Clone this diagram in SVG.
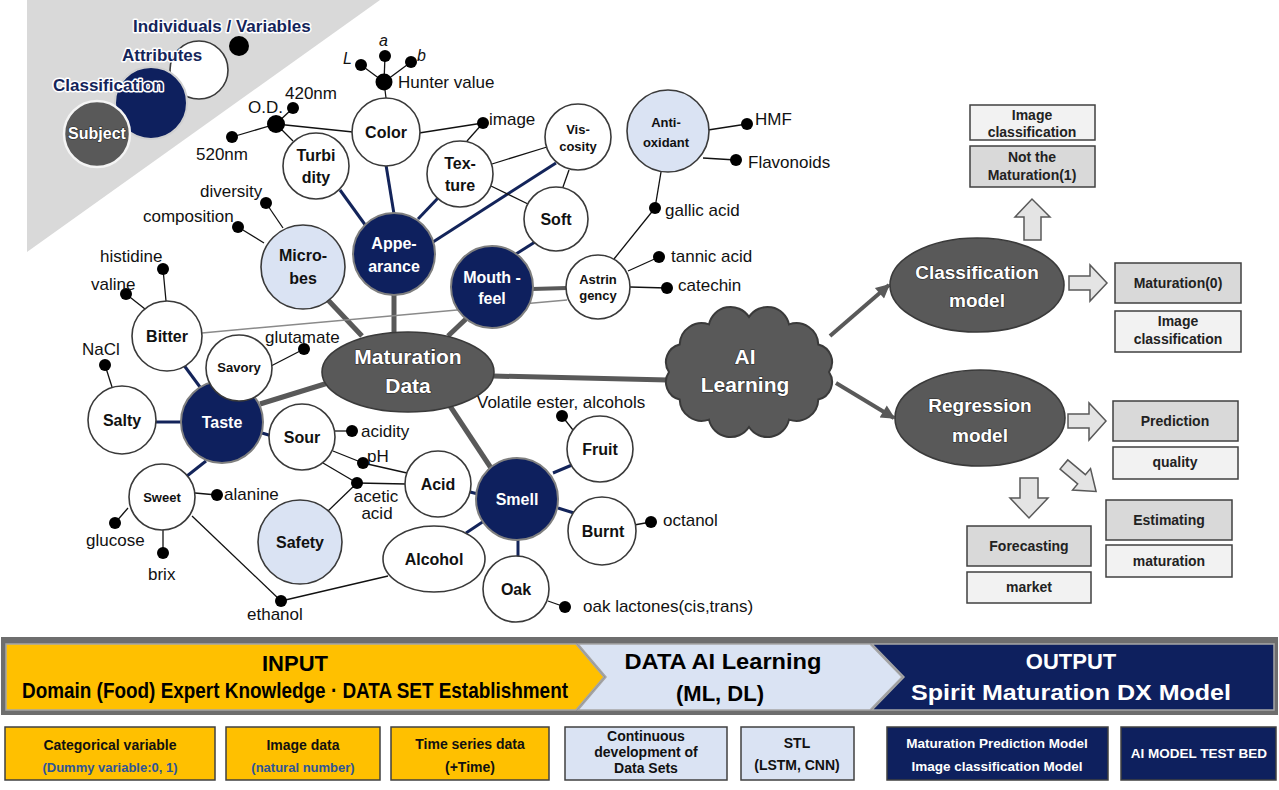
<svg xmlns="http://www.w3.org/2000/svg" width="1279" height="790" viewBox="0 0 1279 790">
<style>
text{font-family:"Liberation Sans",Arial,sans-serif}
.lb{font-size:17px;fill:#111}
.it{font-size:16px;font-style:italic;fill:#111}
.nb{font-size:16px;font-weight:bold;text-anchor:middle;fill:#111}
.ns{font-size:13px;font-weight:bold;text-anchor:middle;fill:#111}
.nw{font-size:16px;font-weight:bold;text-anchor:middle;fill:#fff}
.lg{font-size:17px;font-weight:bold;fill:#14245a;stroke:#fff;stroke-width:3;paint-order:stroke;stroke-linejoin:round}
.big{font-weight:bold;text-anchor:middle;fill:#fff;stroke:#2a2a2a;stroke-width:1.2;paint-order:stroke}
.bx{font-size:14px;font-weight:bold;text-anchor:middle;fill:#222}
.bt{font-size:14px;font-weight:bold;text-anchor:middle;fill:#111}
.bb{font-size:13px;font-weight:bold;text-anchor:middle;fill:#2f5597}
.bw{font-size:13.5px;font-weight:bold;text-anchor:middle;fill:#fff}
.ban{font-size:22px;font-weight:bold;text-anchor:middle}
.w{fill:#fff;stroke:#3a3a3a;stroke-width:1.6}
.lbn{fill:#dae3f3;stroke:#3a3a3a;stroke-width:1.6}
.nv{fill:#0e205e;stroke:#7f7f7f;stroke-width:2}
.dg{fill:#595959;stroke:#3a3a3a;stroke-width:1.6}
.t{stroke:#111;stroke-width:1.3;fill:none}
.n{stroke:#13245a;stroke-width:3;fill:none}
.g{stroke:#595959;stroke-width:5;fill:none}
.gl{stroke:#8a8a8a;stroke-width:1.5;fill:none}
.d{fill:#000}
.hb{fill:#d9d9d9;stroke:#404040;stroke-width:1.5}
.lbx{fill:#f2f2f2;stroke:#404040;stroke-width:1.5}
.ar{fill:#e4e4e4;stroke:#595959;stroke-width:1.5}
</style>
<defs>
<marker id="ah" viewBox="0 0 10 10" refX="9" refY="5" markerUnits="userSpaceOnUse" markerWidth="16" markerHeight="14" orient="auto">
<path d="M0,0 L10,5 L0,10 z" fill="#595959"/>
</marker>
</defs>
<rect width="1279" height="790" fill="#fff"/>

<!-- legend -->
<g id="legend">
<polygon points="27,0 380,0 27,252" fill="#d9d9d9"/>
<circle cx="239" cy="46" r="10" class="d"/>
<circle cx="199" cy="70" r="29" class="w"/>
<circle cx="151" cy="103" r="36" fill="#0e205e" stroke="#d0d0d0" stroke-width="2"/>
<circle cx="97" cy="134" r="33" fill="#595959" stroke="#f4f4f4" stroke-width="2.5"/>
<text x="133" y="32" class="lg">Individuals / Variables</text>
<text x="122" y="61" class="lg" font-size="18">Attributes</text>
<text x="53" y="91" class="lg">Classification</text>
<text x="97" y="139" class="big" font-size="16">Subject</text>
</g>

<!-- connectors -->
<g id="connectors">
<line x1="328" y1="300" x2="362" y2="336" class="g"/>
<line x1="394" y1="295" x2="394" y2="334" class="g"/>
<line x1="467" y1="318" x2="448" y2="336" class="g"/>
<line x1="260" y1="404" x2="328" y2="383" class="g"/>
<line x1="450" y1="406" x2="491" y2="468" class="g"/>
<line x1="493" y1="376" x2="668" y2="380" class="g"/>
<line x1="532" y1="289" x2="567" y2="288" stroke="#595959" stroke-width="4"/>
<line x1="830" y1="336" x2="889" y2="285" stroke="#595959" stroke-width="4" marker-end="url(#ah)"/>
<line x1="836" y1="383" x2="894" y2="418" stroke="#595959" stroke-width="4" marker-end="url(#ah)"/>
<line x1="202" y1="333" x2="567" y2="300" class="gl"/>
<line x1="340" y1="190" x2="366" y2="226" class="n"/>
<line x1="386" y1="165" x2="394" y2="214" class="n"/>
<line x1="418" y1="219" x2="439" y2="197" class="n"/>
<line x1="433" y1="242" x2="556" y2="163" class="n"/>
<line x1="516" y1="254" x2="535" y2="242" class="n"/>
<line x1="183" y1="364" x2="200" y2="387" class="n"/>
<line x1="155" y1="422" x2="182" y2="422" class="n"/>
<line x1="262" y1="433" x2="272" y2="436" class="n"/>
<line x1="187" y1="476" x2="206" y2="461" class="n"/>
<line x1="553" y1="473" x2="572" y2="465" class="n"/>
<line x1="558" y1="508" x2="574" y2="513" class="n"/>
<line x1="518" y1="540" x2="518" y2="557" class="n"/>
<line x1="466" y1="533" x2="484" y2="521" class="n"/>
<line x1="470" y1="492" x2="478" y2="494" class="n"/>
<line x1="386" y1="98" x2="384" y2="82" class="t"/>
<line x1="384" y1="82" x2="361" y2="65" class="t"/>
<line x1="384" y1="82" x2="385" y2="56" class="t"/>
<line x1="384" y1="82" x2="411" y2="62" class="t"/>
<line x1="276" y1="124" x2="353" y2="132" class="t"/>
<line x1="276" y1="124" x2="293" y2="108" class="t"/>
<line x1="276" y1="124" x2="232" y2="137" class="t"/>
<line x1="276" y1="124" x2="293" y2="141" class="t"/>
<line x1="419" y1="133" x2="483" y2="123" class="t"/>
<line x1="483" y1="123" x2="467" y2="141" class="t"/>
<line x1="492" y1="164" x2="547" y2="147" class="t"/>
<line x1="491" y1="186" x2="528" y2="204" class="t"/>
<line x1="569" y1="170" x2="563" y2="187" class="t"/>
<line x1="266" y1="203" x2="283" y2="228" class="t"/>
<line x1="238" y1="227" x2="264" y2="243" class="t"/>
<line x1="661" y1="172" x2="655" y2="208" class="t"/>
<line x1="655" y1="208" x2="614" y2="259" class="t"/>
<line x1="708" y1="130" x2="747" y2="124" class="t"/>
<line x1="703" y1="158" x2="736" y2="160" class="t"/>
<line x1="628" y1="271" x2="659" y2="257" class="t"/>
<line x1="630" y1="287" x2="667" y2="288" class="t"/>
<line x1="163" y1="269" x2="166" y2="301" class="t"/>
<line x1="126" y1="294" x2="145" y2="309" class="t"/>
<line x1="105" y1="365" x2="112" y2="387" class="t"/>
<line x1="271" y1="366" x2="304" y2="349" class="t"/>
<line x1="335" y1="431" x2="352" y2="431" class="t"/>
<line x1="333" y1="451" x2="363" y2="463" class="t"/>
<line x1="363" y1="463" x2="407" y2="473" class="t"/>
<line x1="323" y1="463" x2="357" y2="483" class="t"/>
<line x1="357" y1="483" x2="406" y2="484" class="t"/>
<line x1="357" y1="483" x2="328" y2="511" class="t"/>
<line x1="195" y1="493" x2="217" y2="495" class="t"/>
<line x1="128" y1="508" x2="115" y2="523" class="t"/>
<line x1="163" y1="530" x2="163" y2="553" class="t"/>
<line x1="192" y1="516" x2="281" y2="601" class="t"/>
<line x1="281" y1="601" x2="388" y2="576" class="t"/>
<line x1="573" y1="430" x2="562" y2="416" class="t"/>
<line x1="634" y1="525" x2="651" y2="522" class="t"/>
<line x1="548" y1="601" x2="565" y2="607" class="t"/>
</g>

<!-- dots -->
<g id="dots">
<circle cx="384" cy="82" r="8.5" class="d"/>
<circle cx="361" cy="65" r="6" class="d"/>
<circle cx="385" cy="56" r="6" class="d"/>
<circle cx="411" cy="62" r="6" class="d"/>
<circle cx="276" cy="124" r="9" class="d"/>
<circle cx="293" cy="108" r="6" class="d"/>
<circle cx="232" cy="137" r="6" class="d"/>
<circle cx="483" cy="123" r="6" class="d"/>
<circle cx="266" cy="203" r="6" class="d"/>
<circle cx="238" cy="227" r="6" class="d"/>
<circle cx="747" cy="124" r="6" class="d"/>
<circle cx="736" cy="160" r="6" class="d"/>
<circle cx="655" cy="208" r="6" class="d"/>
<circle cx="659" cy="257" r="6" class="d"/>
<circle cx="667" cy="288" r="6" class="d"/>
<circle cx="163" cy="269" r="6" class="d"/>
<circle cx="126" cy="294" r="6" class="d"/>
<circle cx="304" cy="349" r="6" class="d"/>
<circle cx="105" cy="365" r="6" class="d"/>
<circle cx="352" cy="431" r="6" class="d"/>
<circle cx="363" cy="463" r="6" class="d"/>
<circle cx="357" cy="483" r="6" class="d"/>
<circle cx="217" cy="495" r="6" class="d"/>
<circle cx="115" cy="523" r="6" class="d"/>
<circle cx="163" cy="553" r="6" class="d"/>
<circle cx="281" cy="601" r="6" class="d"/>
<circle cx="562" cy="416" r="6" class="d"/>
<circle cx="651" cy="522" r="6" class="d"/>
<circle cx="565" cy="607" r="6" class="d"/>
</g>

<!-- nodes -->
<g id="color"><circle cx="386" cy="132" r="34" class="w"/><text x="386" y="138" class="nb">Color</text></g>
<g id="turbidity"><circle cx="316" cy="166" r="33" class="w"/><text x="316" y="161" class="nb">Turbi</text><text x="316" y="183" class="nb">dity</text></g>
<g id="texture"><circle cx="460" cy="174" r="33" class="w"/><text x="460" y="169" class="nb">Tex-</text><text x="460" y="191" class="nb">ture</text></g>
<g id="viscosity"><circle cx="578" cy="137" r="33" class="w"/><text x="578" y="134" class="ns">Vis-</text><text x="578" y="151" class="ns">cosity</text></g>
<g id="soft"><circle cx="556" cy="219" r="32" class="w"/><text x="556" y="225" class="nb">Soft</text></g>
<g id="antioxidant"><circle cx="668" cy="131" r="41" class="lbn"/><text x="666" y="127" class="ns">Anti-</text><text x="666" y="147" class="ns">oxidant</text></g>
<g id="appearance"><circle cx="394" cy="254" r="41" class="nv"/><text x="394" y="249" class="nw">Appe-</text><text x="394" y="272" class="nw">arance</text></g>
<g id="microbes"><circle cx="303" cy="267" r="42" class="lbn"/><text x="303" y="261" class="nb">Micro-</text><text x="303" y="284" class="nb">bes</text></g>
<g id="mouthfeel"><circle cx="492" cy="287" r="41" class="nv"/><text x="492" y="283" class="nw" font-size="15">Mouth -</text><text x="492" y="304" class="nw" font-size="15">feel</text></g>
<g id="astringency"><circle cx="598" cy="287" r="32" class="w"/><text x="598" y="284" class="ns">Astrin</text><text x="598" y="300" class="ns">gency</text></g>
<g id="bitter"><circle cx="167" cy="336" r="35" class="w"/><text x="167" y="342" class="nb">Bitter</text></g>
<g id="salty"><circle cx="122" cy="420" r="34" class="w"/><text x="122" y="426" class="nb">Salty</text></g>
<g id="taste"><circle cx="222" cy="422" r="41" class="nv"/><text x="222" y="428" class="nw">Taste</text></g>
<g id="savory"><circle cx="239" cy="368" r="33" class="w"/><text x="239" y="372" class="ns" font-size="12">Savory</text></g>
<g id="sour"><circle cx="302" cy="437" r="33" class="w"/><text x="302" y="443" class="nb">Sour</text></g>
<g id="sweet"><circle cx="162" cy="497" r="33" class="w"/><text x="162" y="502" class="ns">Sweet</text></g>
<g id="safety"><circle cx="300" cy="542" r="42" class="lbn"/><text x="300" y="548" class="nb">Safety</text></g>
<g id="acid"><circle cx="438" cy="484" r="33" class="w"/><text x="438" y="490" class="nb">Acid</text></g>
<g id="alcohol"><ellipse cx="434" cy="559" rx="51" ry="33" class="w"/><text x="434" y="565" class="nb">Alcohol</text></g>
<g id="oak"><circle cx="516" cy="589" r="33" class="w"/><text x="516" y="595" class="nb">Oak</text></g>
<g id="fruit"><circle cx="600" cy="449" r="33" class="w"/><text x="600" y="455" class="nb">Fruit</text></g>
<g id="burnt"><circle cx="602" cy="531" r="34" class="w"/><text x="603" y="537" class="nb">Burnt</text></g>
<g id="smell"><circle cx="517" cy="499" r="41" class="nv"/><text x="517" y="505" class="nw">Smell</text></g>
<g id="maturation-data"><ellipse cx="408" cy="372" rx="86" ry="40" class="dg"/><text x="408" y="364" class="big" font-size="21">Maturation</text><text x="408" y="393" class="big" font-size="21">Data</text></g>

<!-- labels -->
<g id="labels">
<text x="398" y="88" class="lb">Hunter value</text>
<text x="343" y="64" class="it">L</text>
<text x="379" y="46" class="it">a</text>
<text x="417" y="61" class="it">b</text>
<text x="248" y="113" class="lb">O.D.</text>
<text x="285" y="99" class="lb">420nm</text>
<text x="196" y="160" class="lb">520nm</text>
<text x="489" y="125" class="lb">image</text>
<text x="200" y="197" class="lb">diversity</text>
<text x="143" y="222" class="lb">composition</text>
<text x="755" y="125" class="lb">HMF</text>
<text x="748" y="168" class="lb">Flavonoids</text>
<text x="665" y="216" class="lb">gallic acid</text>
<text x="671" y="262" class="lb">tannic acid</text>
<text x="678" y="291" class="lb">catechin</text>
<text x="100" y="262" class="lb">histidine</text>
<text x="91" y="290" class="lb">valine</text>
<text x="82" y="355" class="lb">NaCl</text>
<text x="265" y="343" class="lb">glutamate</text>
<text x="361" y="437" class="lb">acidity</text>
<text x="367" y="462" class="lb">pH</text>
<text x="376" y="502" class="lb" font-size="15" text-anchor="middle">acetic</text>
<text x="377" y="519" class="lb" font-size="15" text-anchor="middle">acid</text>
<text x="224" y="500" class="lb">alanine</text>
<text x="86" y="546" class="lb">glucose</text>
<text x="148" y="580" class="lb">brix</text>
<text x="247" y="620" class="lb">ethanol</text>
<text x="477" y="408" class="lb">Volatile ester, alcohols</text>
<text x="663" y="526" class="lb">octanol</text>
<text x="583" y="612" class="lb">oak lactones(cis,trans)</text>
</g>

<!-- AI learning cloud -->
<g id="ai-learning">
<path d="M829,372 A18,18 0 0 1 818.3,399.5 A22,22 0 0 1 789,419.6 A22,22 0 0 1 749,427 A22,22 0 0 1 709,419.6 A22,22 0 0 1 679.7,399.5 A18,18 0 0 1 669,372 A18,18 0 0 1 679.7,344.5 A22,22 0 0 1 709,324.4 A22,22 0 0 1 749,317 A22,22 0 0 1 789,324.4 A22,22 0 0 1 818.3,344.5 A18,18 0 0 1 829,372 Z" fill="#595959" stroke="#3a3a3a" stroke-width="2"/>
<text x="745" y="364" class="big" font-size="21">AI</text>
<text x="745" y="392" class="big" font-size="21">Learning</text>
</g>

<!-- models -->
<g id="classification-model"><ellipse cx="977" cy="285" rx="87" ry="47" class="dg"/><text x="977" y="279" class="big" font-size="19">Classification</text><text x="977" y="307" class="big" font-size="19">model</text></g>
<g id="regression-model"><ellipse cx="980" cy="418" rx="85" ry="48" class="dg"/><text x="980" y="412" class="big" font-size="19">Regression</text><text x="980" y="442" class="big" font-size="19">model</text></g>

<!-- block arrows -->
<g id="block-arrows">
<polygon points="1024,240 1024,217 1015,217 1032,199 1050,217 1041,217 1041,240" class="ar"/>
<polygon points="1069,276 1090,276 1090,265 1107,283 1090,301 1090,290 1069,290" class="ar"/>
<polygon points="1068,414 1089,414 1089,403 1106,421 1089,440 1089,428 1068,428" class="ar"/>
<polygon points="1020,478 1038,478 1038,498 1048,498 1029,518 1010,498 1020,498" class="ar"/>
<polygon transform="translate(1080,478) rotate(40)" points="-21,-6 2,-6 2,-14 21,0 2,14 2,6 -21,6" class="ar"/>
</g>

<!-- output boxes -->
<g id="box-img-class-1"><rect x="970" y="105" width="125" height="35" class="lbx"/><text x="1032" y="120" class="bx">Image</text><text x="1032" y="137" class="bx">classification</text></g>
<g id="box-not-maturation"><rect x="970" y="146" width="125" height="41" class="hb"/><text x="1032" y="162" class="bx">Not the</text><text x="1032" y="180" class="bx">Maturation(1)</text></g>
<g id="box-maturation0"><rect x="1115" y="263" width="126" height="40" class="hb"/><text x="1178" y="288" class="bx">Maturation(0)</text></g>
<g id="box-img-class-2"><rect x="1115" y="311" width="126" height="41" class="lbx"/><text x="1178" y="326" class="bx">Image</text><text x="1178" y="344" class="bx">classification</text></g>
<g id="box-prediction"><rect x="1113" y="401" width="125" height="40" class="hb"/><text x="1175" y="426" class="bx">Prediction</text></g>
<g id="box-quality"><rect x="1113" y="447" width="125" height="32" class="lbx"/><text x="1175" y="467" class="bx">quality</text></g>
<g id="box-estimating"><rect x="1106" y="500" width="126" height="40" class="hb"/><text x="1169" y="525" class="bx">Estimating</text></g>
<g id="box-maturation"><rect x="1106" y="545" width="126" height="32" class="lbx"/><text x="1169" y="566" class="bx">maturation</text></g>
<g id="box-forecasting"><rect x="967" y="526" width="124" height="40" class="hb"/><text x="1029" y="551" class="bx">Forecasting</text></g>
<g id="box-market"><rect x="967" y="572" width="124" height="31" class="lbx"/><text x="1029" y="592" class="bx">market</text></g>

<!-- banner -->
<g id="banner">
<rect x="1" y="637" width="1277" height="78" fill="#6e6e6e"/>
<polygon points="6,644 576,644 604,677 576,710 6,710" fill="#ffc000" stroke="#a6a6a6" stroke-width="1.5"/>
<polygon points="578,644 870,644 902,677 870,710 578,710 606,677" fill="#dae3f3" stroke="#a6a6a6" stroke-width="1.5"/>
<polygon points="872,644 1274,644 1274,710 872,710 904,677" fill="#0e205e" stroke="#a6a6a6" stroke-width="1.5"/>
<text x="295" y="671" class="ban" fill="#000">INPUT</text>
<text x="295" y="698" class="ban" fill="#000" font-size="19" textLength="546" lengthAdjust="spacingAndGlyphs">Domain (Food) Expert Knowledge · DATA SET Establishment</text>
<text x="723" y="669" class="ban" fill="#000" textLength="197" lengthAdjust="spacingAndGlyphs">DATA AI Learning</text>
<text x="720" y="701" class="ban" fill="#000">(ML, DL)</text>
<text x="1071" y="669" class="ban" fill="#fff">OUTPUT</text>
<text x="1071" y="700" class="ban" fill="#fff" textLength="320" lengthAdjust="spacingAndGlyphs">Spirit Maturation DX Model</text>
</g>

<g id="box-categorical"><rect x="5" y="727" width="210" height="53" fill="#ffc000" stroke="#404040" stroke-width="1.5"/><text x="110" y="750" class="bt">Categorical  variable</text><text x="110" y="772" class="bb">(Dummy variable:0, 1)</text></g>
<g id="box-image-data"><rect x="226" y="727" width="154" height="53" fill="#ffc000" stroke="#404040" stroke-width="1.5"/><text x="303" y="750" class="bt">Image data</text><text x="303" y="772" class="bb">(natural number)</text></g>
<g id="box-time-series"><rect x="391" y="727" width="158" height="53" fill="#ffc000" stroke="#404040" stroke-width="1.5"/><text x="470" y="749" class="bt">Time series data</text><text x="470" y="772" class="bt">(+Time)</text></g>
<g id="box-continuous"><rect x="565" y="727" width="162" height="53" fill="#dae3f3" stroke="#404040" stroke-width="1.5"/><text x="646" y="741" class="bt" font-size="13">Continuous</text><text x="646" y="757" class="bt" font-size="13">development of</text><text x="646" y="773" class="bt" font-size="13">Data Sets</text></g>
<g id="box-stl"><rect x="741" y="727" width="113" height="53" fill="#dae3f3" stroke="#404040" stroke-width="1.5"/><text x="797" y="748" class="bt" font-size="13">STL</text><text x="797" y="770" class="bt" font-size="13">(LSTM, CNN)</text></g>
<g id="box-models"><rect x="887" y="727" width="221" height="53" fill="#0e205e" stroke="#404040" stroke-width="1.5"/><text x="997" y="748" class="bw">Maturation  Prediction Model</text><text x="997" y="771" class="bw">Image classification  Model</text></g>
<g id="box-testbed"><rect x="1121" y="727" width="155" height="53" fill="#0e205e" stroke="#404040" stroke-width="1.5"/><text x="1199" y="758" class="bw">AI MODEL TEST BED</text></g>
</svg>
